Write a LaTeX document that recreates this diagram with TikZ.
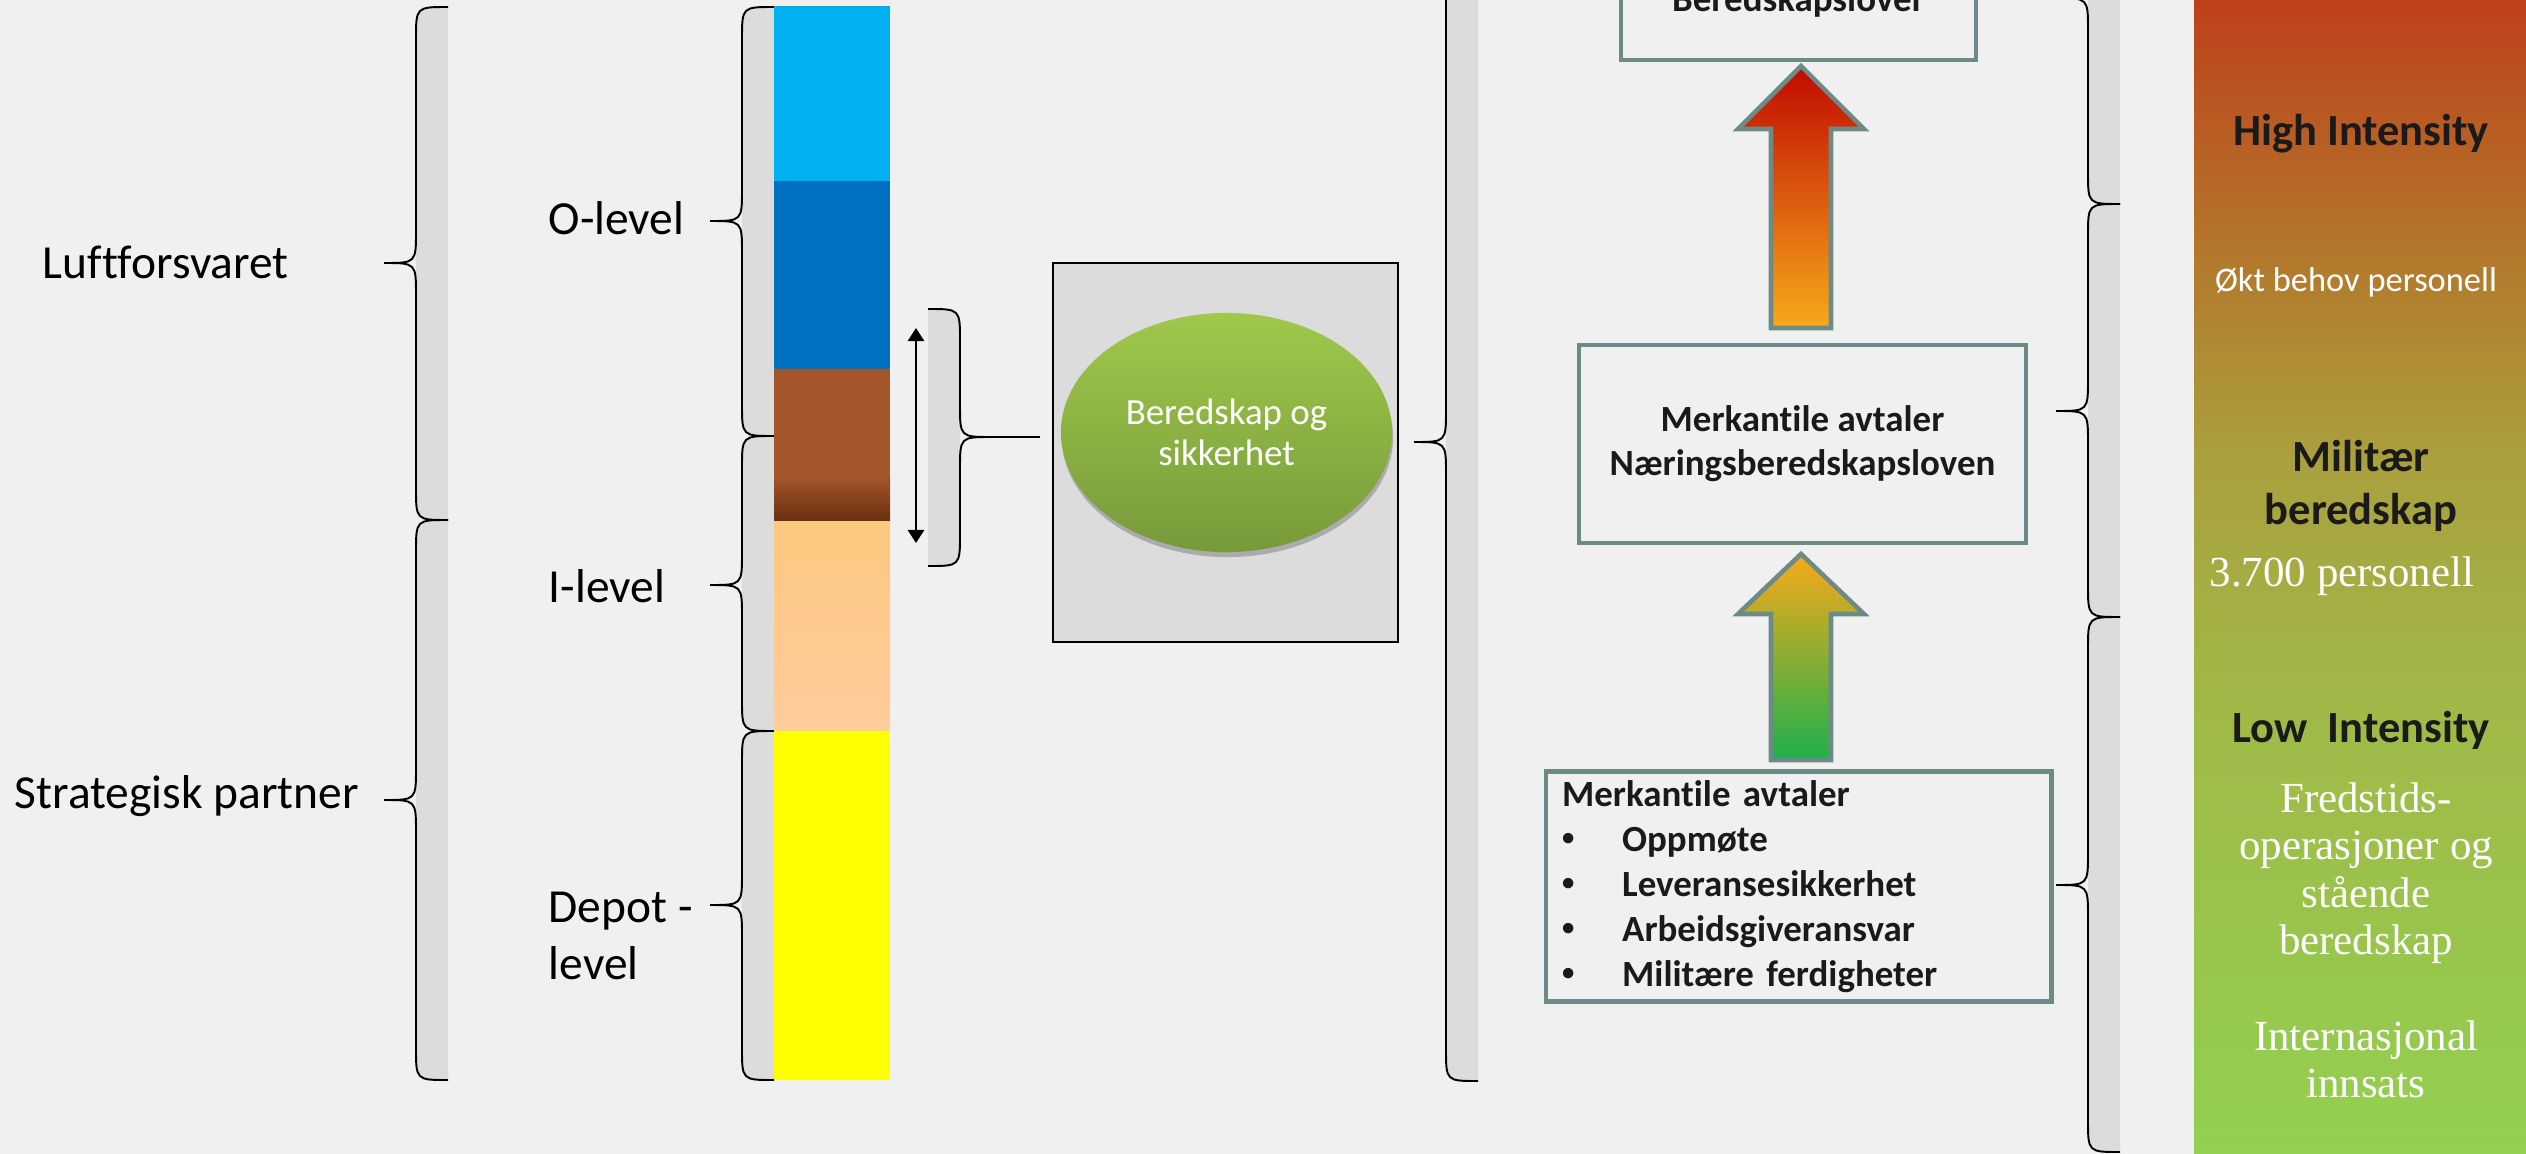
\documentclass[tikz,border=0pt]{standalone}
\usepackage{fontspec}
\setmainfont[Ligatures=NoCommon]{Carlito}
\newfontfamily\serifx{Liberation Serif}
\usetikzlibrary{shapes.geometric,shadows,arrows.meta,calc}
\definecolor{bgcol}{HTML}{F0F0F0}
\definecolor{bracefill}{HTML}{DCDCDC}
\definecolor{lblue}{HTML}{00B0F0}
\definecolor{dblue}{HTML}{0070C0}
\definecolor{brownc}{HTML}{A5552A}
\definecolor{dbrown}{HTML}{6B2F12}
\definecolor{peachA}{HTML}{FBC97F}
\definecolor{peachB}{HTML}{FFCC9C}
\definecolor{yelc}{HTML}{FFFF00}
\definecolor{boxline}{HTML}{6E8A87}
\definecolor{ellT}{HTML}{A0C84B}
\definecolor{ellB}{HTML}{779A3A}
\definecolor{arRed}{HTML}{C00A00}
\definecolor{arOrange}{HTML}{F7AA1A}
\definecolor{arGreen}{HTML}{1EB04B}
\definecolor{txtdark}{HTML}{1A1A1A}
\definecolor{rcA}{RGB}{146,208,80}
\definecolor{rcB}{RGB}{160,186,72}
\definecolor{rcC}{RGB}{170,160,62}
\definecolor{rcD}{RGB}{178,125,46}
\definecolor{rcE}{RGB}{190,64,26}
\pgfdeclareverticalshading{rightcol}{100bp}{color(0bp)=(rcA); color(25bp)=(rcA); color(43.4bp)=(rcB); color(55bp)=(rcC); color(62.9bp)=(rcD); color(75bp)=(rcE); color(100bp)=(rcE)}
% brace: #1 flat x, #2 top y, #3 bottom y, #4 tip y, #5 signed half width
\newcommand{\mybrace}[5]{%
  \pgfmathsetmacro{\bxv}{#1-(#5)}%
  \pgfmathsetmacro{\bxt}{#1-2*(#5)}%
  \pgfmathsetmacro{\bya}{#2+32}%
  \pgfmathsetmacro{\byb}{#4-32}%
  \pgfmathsetmacro{\byc}{#4+32}%
  \pgfmathsetmacro{\byd}{#3-32}%
  \fill[bracefill] (#1,#2) .. controls (\bxv,#2) .. (\bxv,\bya) -- (\bxv,\byd) .. controls (\bxv,#3) .. (#1,#3) -- cycle;
  \draw[braceline] (#1,#2) .. controls (\bxv,#2) .. (\bxv,\bya) -- (\bxv,\byb) .. controls (\bxv,#4) .. (\bxt,#4) .. controls (\bxv,#4) .. (\bxv,\byc) -- (\bxv,\byd) .. controls (\bxv,#3) .. (#1,#3);
}
% block arrow: #1 centre x, #2 tip y, #3 head base y, #4 bottom y, #5 top colour, #6 bottom colour
\newcommand{\blockarrow}[6]{%
  \pgfmathsetmacro{\axa}{#1+63}\pgfmathsetmacro{\axb}{#1+30}%
  \pgfmathsetmacro{\axc}{#1-30}\pgfmathsetmacro{\axd}{#1-63}%
  \shade[top color=#5, bottom color=#6, draw=boxline, line width=1.3pt]
    (#1,#2) -- (\axa,#3) -- (\axb,#3) -- (\axb,#4) -- (\axc,#4) -- (\axc,#3) -- (\axd,#3) -- cycle;
}
\newcommand{\mybul}{\makebox[0.6cm][l]{\raisebox{0.3ex}{\fontsize{7}{7}\selectfont\textbullet}}}
\begin{document}
\begin{tikzpicture}[x=0.01cm,y=-0.01cm,
  braceline/.style={black,line width=0.55pt},
  lab/.style={inner sep=0pt,text=black,font=\fontsize{13.5}{16.1}\selectfont},
  abox/.style={draw=boxline,line width=1.3pt,fill=bgcol,inner sep=0pt,text=txtdark},
  rbold/.style={inner sep=0pt,text=txtdark,font=\bfseries\fontsize{12.66}{14.9}\selectfont},
  rsmall/.style={inner sep=0pt,text=white,font=\fontsize{9.8}{11}\selectfont},
  rserif/.style={inner sep=0pt,text=white,font=\serifx\fontsize{12.2}{13.5}\selectfont}]
\path[use as bounding box] (0,0) rectangle (2526,1154);
\fill[bgcol] (0,0) rectangle (2526,1154);
\clip (0,0) rectangle (2526,1154);

% left braces
\mybrace{448}{7}{520}{263}{32}
\mybrace{448}{520}{1080}{800}{32}
\mybrace{774}{7}{436}{221}{32}
\mybrace{774}{436}{731}{585}{32}
\mybrace{774}{731}{1080}{905}{32}

% colour bar
\fill[lblue] (774,6) rectangle (890,181);
\fill[dblue] (774,181) rectangle (890,369);
\fill[brownc] (774,369) rectangle (890,477);
\shade[top color=brownc,bottom color=dbrown] (774,476) rectangle (890,521);
\shade[top color=peachA,bottom color=peachB] (774,521) rectangle (890,732);
\fill[yelc] (774,731) rectangle (890,1080);

% left labels
\node[lab,anchor=base west] (luft) at (42,278.6) {Luftforsvaret};
\node[lab,anchor=base west] (strat) at (14,808.6) {Strategisk partner};
\node[lab,anchor=base west] (olev) at (548,234) {O-level};
\node[lab,anchor=base west] (ilev) at (548,602) {I-level};
\node[lab,anchor=base west,align=left] (dlev) at (548,979.6) {Depot -\\level};

% double arrow and small brace
\coordinate (datop) at (916,328);
\coordinate (dabot) at (916,543);
\draw[line width=0.6pt,{Triangle[length=3.7pt,width=4.6pt]}-{Triangle[length=3.7pt,width=4.6pt]}] (datop) -- (dabot);
\mybrace{928}{309}{566}{437}{-32}
\coordinate (stip) at (992,437);

% grey box with ellipse
\node[draw=black,fill=bracefill,line width=0.5pt,minimum width=3.45cm,minimum height=3.79cm,inner sep=0pt] (gbox) at (1225.5,452.5) {};
\draw[braceline] (stip) -- ($(gbox.west |- stip)+(-12,0)$);
\node[ellipse,minimum width=3.31cm,minimum height=2.39cm,inner sep=0pt,top color=ellT,bottom color=ellB,
  drop shadow={shadow xshift=0.01cm,shadow yshift=-0.05cm,opacity=0.22,fill=black},
  text=white,align=center,font=\fontsize{10.5}{11.55}\selectfont] (ell) at (1226.5,432.5) {Beredskap og\\sikkerhet};

% middle big brace
\mybrace{1478}{-197}{1081}{442}{32}

% boxes
\node[abox,minimum width=3.545cm,minimum height=1.18cm,anchor=base,font=\bfseries\fontsize{10.5}{12.5}\selectfont] (topb) at (1798.5,11) {Beredskapslover};
\node[abox,minimum width=4.47cm,minimum height=1.975cm,align=center,font=\bfseries\fontsize{10.5}{12.5}\selectfont] (midb) at (1802.5,444) {Merkantile avtaler\\Næringsberedskapsloven};
\node[abox,minimum width=5.05cm,minimum height=2.30cm,text width=4.73cm,align=left,font=\bfseries\fontsize{10.5}{12.8}\selectfont] (botb) at (1798.75,886.5)
 {Merkantile avtaler\\
  \mybul Oppmøte\\
  \mybul Leveransesikkerhet\\
  \mybul Arbeidsgiveransvar\\
  \mybul Militære ferdigheter};

% block arrows
\blockarrow{1801}{66}{129}{328}{arRed}{arOrange}
\blockarrow{1801}{554}{614}{760}{arOrange}{arGreen}

% right braces
\mybrace{2120}{-208}{204}{-2}{32}
\mybrace{2120}{204}{617}{411}{32}
\mybrace{2120}{617}{1152}{885}{32}

% right column
\shade[shading=rightcol] (2194,0) rectangle (2526,1154);
\node[rbold,anchor=base] (hi) at (2361,145) {High Intensity};
\node[rsmall,anchor=base] (okt) at (2356,291) {Økt behov personell};
\node[rbold,anchor=base,align=center] (mil) at (2361,524) {Militær\\beredskap};
\node[rserif,anchor=base] (pers) at (2342,586.6) {3.700 personell};
\node[rbold,anchor=base] (low) at (2361,742.6) {Low~~Intensity};
\node[rserif,anchor=base,align=center] (fred) at (2366,954.5) {Fredstids-\\operasjoner og\\stående\\beredskap};
\node[rserif,anchor=base,align=center,font=\serifx\fontsize{12.2}{13.1}\selectfont] (intl) at (2366,1097) {Internasjonal\\innsats};
\end{tikzpicture}
\end{document}
